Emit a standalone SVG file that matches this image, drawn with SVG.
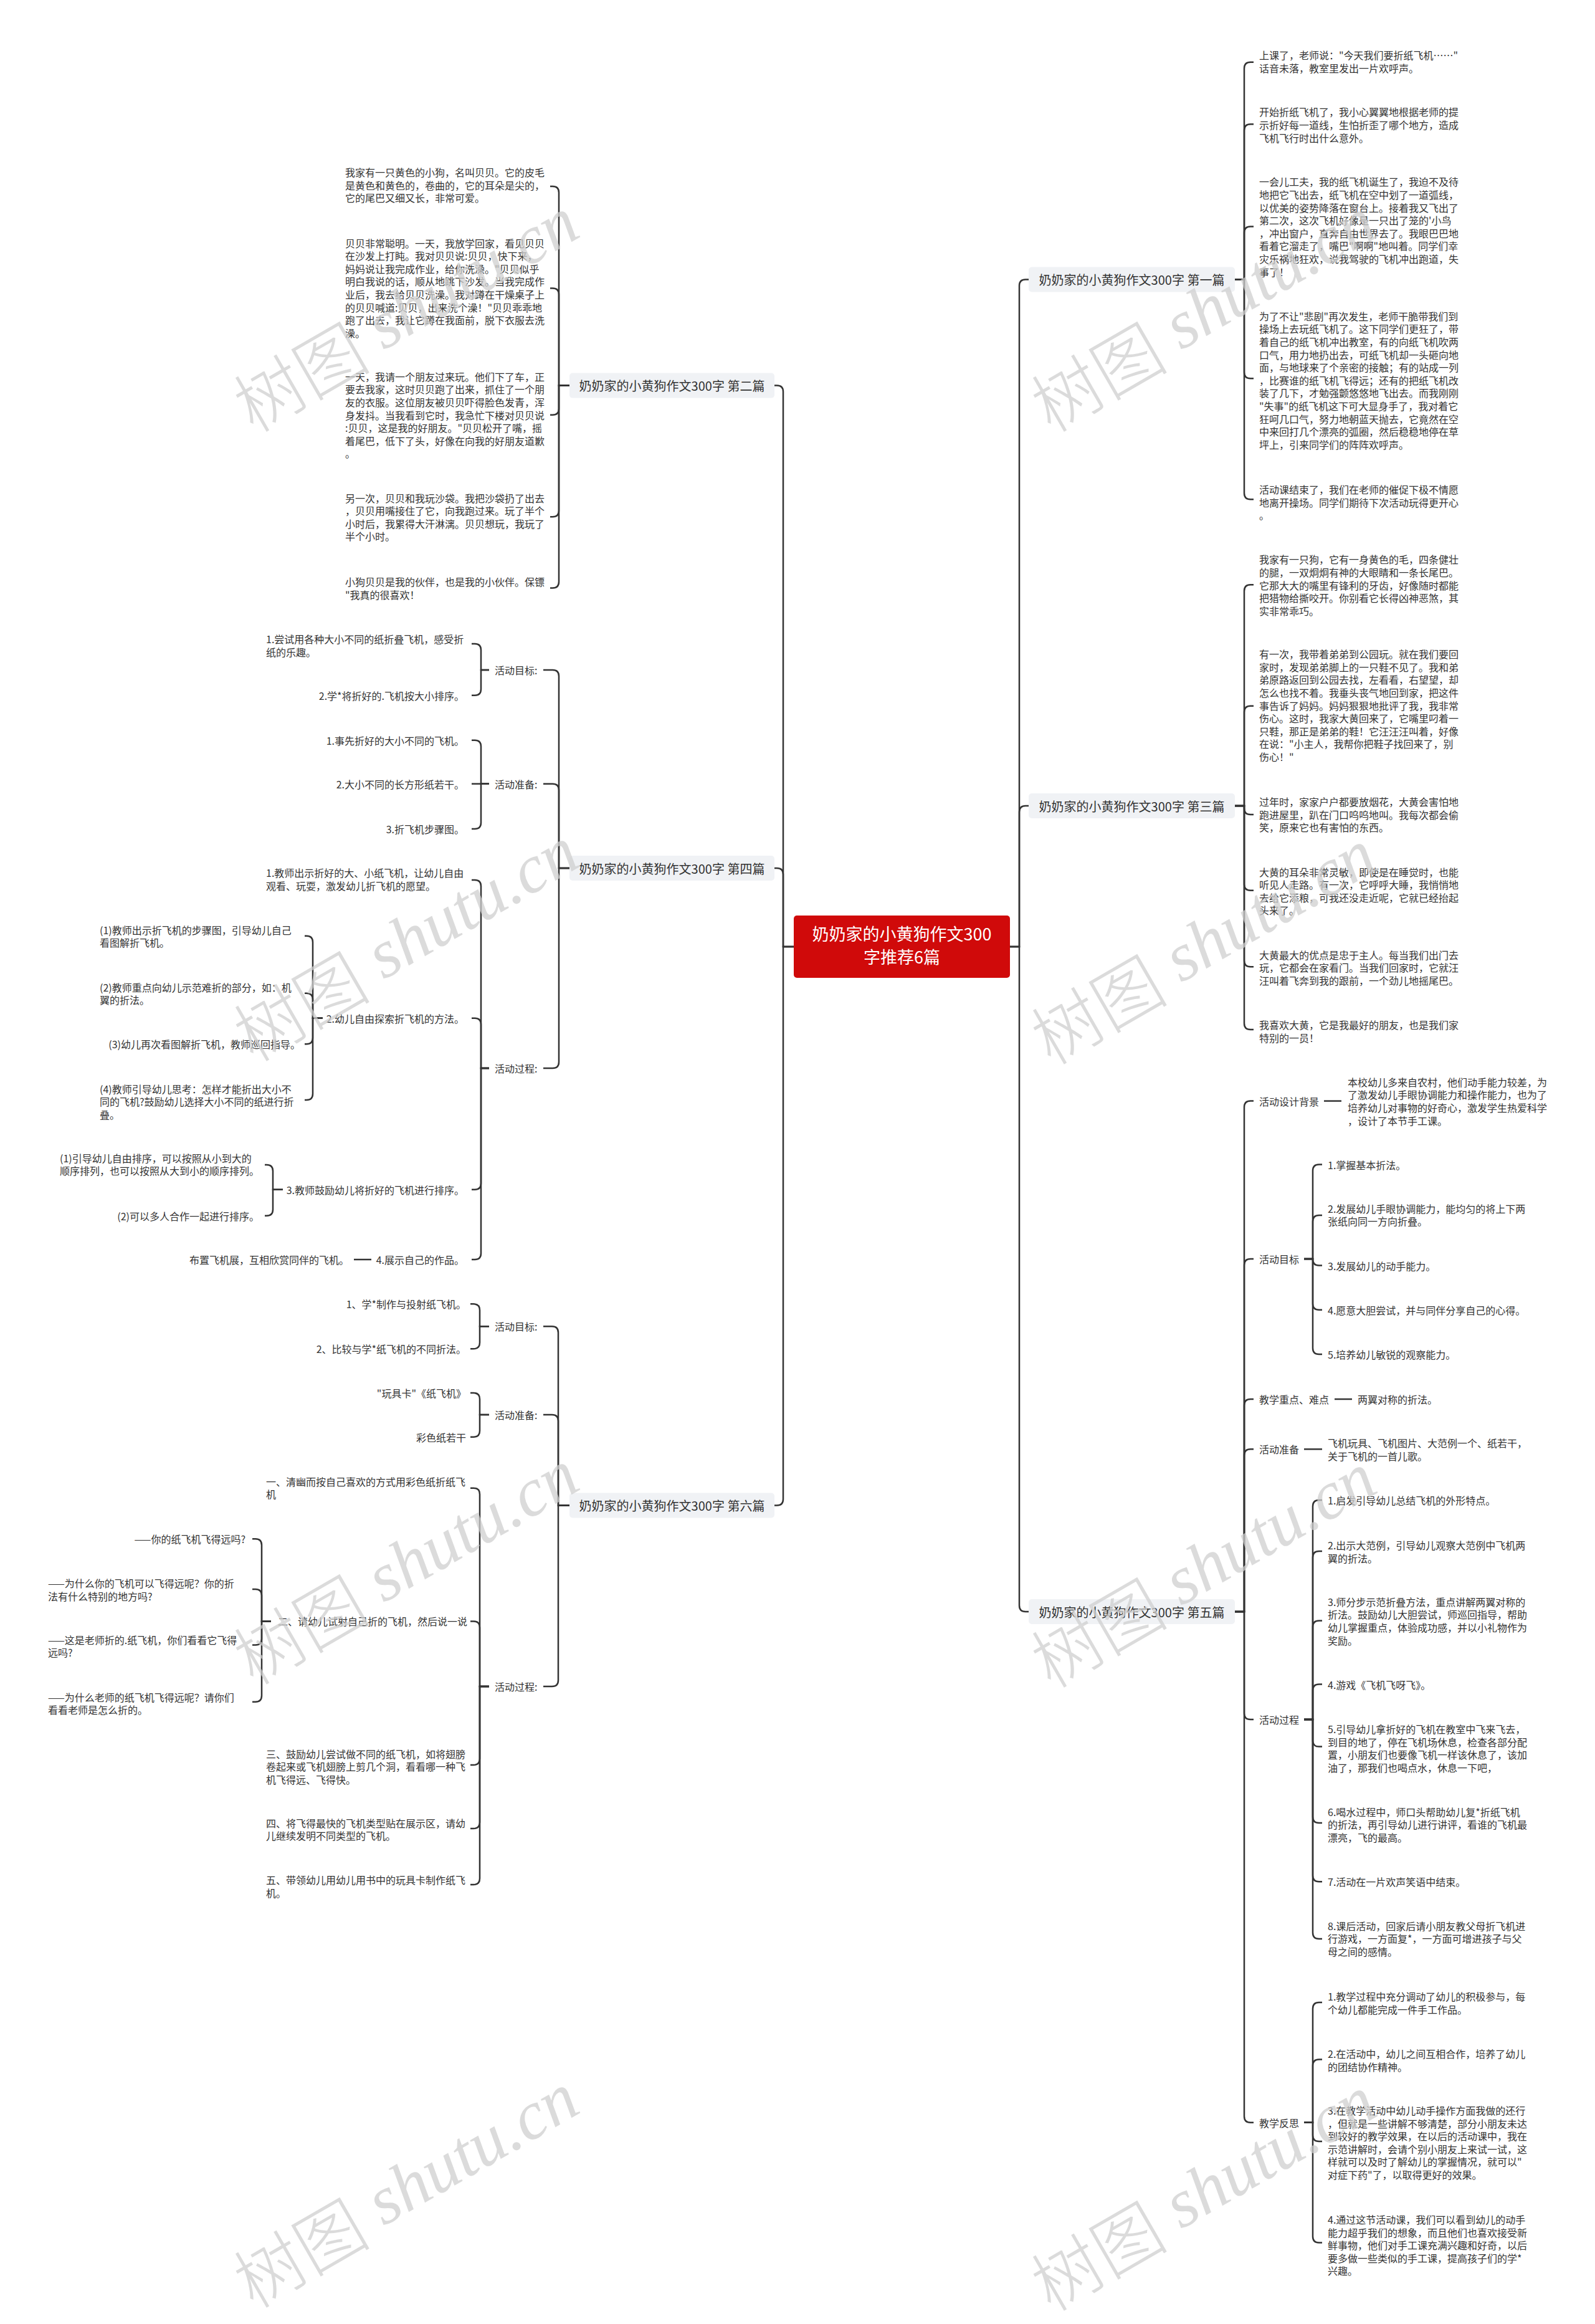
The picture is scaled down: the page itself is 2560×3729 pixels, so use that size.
<svg xmlns="http://www.w3.org/2000/svg" width="2560" height="3729" viewBox="0 0 2560 3729">
<style>
.t{font-family:"Noto Sans CJK SC","Noto Sans",sans-serif;font-size:16px;fill:#333;dominant-baseline:central}
.e{text-anchor:end}
.lb{font-family:"Noto Sans CJK SC","Noto Sans",sans-serif;font-size:20px;fill:#333;text-anchor:middle;dominant-baseline:central}
.box{fill:#f0f2f5}
.c{fill:none;stroke:#333;stroke-width:2.5}
.wm{font-size:110px;fill:#cfcfcf;fill-opacity:0.75;text-anchor:middle;dominant-baseline:central}
</style>
<rect width="2560" height="3729" fill="#fff"/>
<g id="connectors" class="c">
<path d="M1274 1519H1257V628.6Q1257 618.6 1247 618.6H1243"/>
<path d="M1274 1519H1257V1403Q1257 1393 1247 1393H1243"/>
<path d="M1274 1519H1257V2405.5Q1257 2415.5 1247 2415.5H1243"/>
<path d="M1621 1519H1636V458.5Q1636 448.5 1646 448.5H1651"/>
<path d="M1621 1519H1636V1303Q1636 1293 1646 1293H1651"/>
<path d="M1621 1519H1636V2576Q1636 2586 1646 2586H1651"/>
<path d="M914 618.6H897V309Q897 299 887 299H883"/>
<path d="M914 618.6H897V472.4Q897 462.4 887 462.4H883"/>
<path d="M914 618.6H897V655.8Q897 665.8 887 665.8H883"/>
<path d="M914 618.6H897V819.3Q897 829.3 887 829.3H883"/>
<path d="M914 618.6H897V933.4Q897 943.4 887 943.4H883"/>
<path d="M914 1393H897V1085Q897 1075 887 1075H872"/>
<path d="M914 1393H897V1267.7Q897 1257.7 887 1257.7H872"/>
<path d="M914 1393H897V1704Q897 1714 887 1714H872"/>
<path d="M785 1075H772V1043Q772 1033 762 1033H757"/>
<path d="M785 1075H772V1105.7Q772 1115.7 762 1115.7H757"/>
<path d="M785 1257.7H772V1197.7Q772 1187.7 762 1187.7H757"/>
<path d="M785 1257.7H757"/>
<path d="M785 1257.7H772V1320Q772 1330 762 1330H757"/>
<path d="M785 1714H772V1422Q772 1412 762 1412H757"/>
<path d="M785 1714H772V1643.7Q772 1633.7 762 1633.7H757"/>
<path d="M785 1714H772V1898.8Q772 1908.8 762 1908.8H757"/>
<path d="M785 1714H772V2011Q772 2021 762 2021H757"/>
<path d="M518 1633.7H502V1511.8Q502 1501.8 492 1501.8H489"/>
<path d="M518 1633.7H502V1603.7Q502 1593.7 492 1593.7H489"/>
<path d="M518 1633.7H502V1665.3Q502 1675.3 492 1675.3H489"/>
<path d="M518 1633.7H502V1755Q502 1765 492 1765H489"/>
<path d="M454 1908.8H438V1879Q438 1869 428 1869H425"/>
<path d="M454 1908.8H438V1940.8Q438 1950.8 428 1950.8H425"/>
<path d="M596 2021H568"/>
<path d="M914 2415.5H896V2138.3Q896 2128.3 886 2128.3H872"/>
<path d="M914 2415.5H896V2280Q896 2270 886 2270H872"/>
<path d="M914 2415.5H896V2696Q896 2706 886 2706H872"/>
<path d="M785 2128.3H770V2102.3Q770 2092.3 760 2092.3H755"/>
<path d="M785 2128.3H770V2154.3Q770 2164.3 760 2164.3H755"/>
<path d="M785 2270H770V2245Q770 2235 760 2235H755"/>
<path d="M785 2270H770V2295.7Q770 2305.7 760 2305.7H755"/>
<path d="M785 2706H770V2397.7Q770 2387.7 760 2387.7H755"/>
<path d="M785 2706H770V2611.4Q770 2601.4 760 2601.4H755"/>
<path d="M785 2706H770V2822Q770 2832 760 2832H755"/>
<path d="M785 2706H770V2924Q770 2934 760 2934H755"/>
<path d="M785 2706H770V3014Q770 3024 760 3024H755"/>
<path d="M435 2601.4H420V2479.3Q420 2469.3 410 2469.3H405"/>
<path d="M435 2601.4H420V2560Q420 2550 410 2550H405"/>
<path d="M435 2601.4H420V2629.6Q420 2639.6 410 2639.6H405"/>
<path d="M435 2601.4H420V2720.8Q420 2730.8 410 2730.8H405"/>
<path d="M1982 448.5H1997V109.8Q1997 99.8 2007 99.8H2012"/>
<path d="M1982 448.5H1997V209.3Q1997 199.3 2007 199.3H2012"/>
<path d="M1982 448.5H1997V373.5Q1997 363.5 2007 363.5H2012"/>
<path d="M1982 448.5H1997V597.3Q1997 607.3 2007 607.3H2012"/>
<path d="M1982 448.5H1997V791.3Q1997 801.3 2007 801.3H2012"/>
<path d="M1982 1293H1997V948.2Q1997 938.2 2007 938.2H2012"/>
<path d="M1982 1293H1997V1142.8Q1997 1132.8 2007 1132.8H2012"/>
<path d="M1982 1293H1997V1297Q1997 1307 2007 1307H2012"/>
<path d="M1982 1293H1997V1418.8Q1997 1428.8 2007 1428.8H2012"/>
<path d="M1982 1293H1997V1541.2Q1997 1551.2 2007 1551.2H2012"/>
<path d="M1982 1293H1997V1642Q1997 1652 2007 1652H2012"/>
<path d="M1982 2586H1997V1776.6Q1997 1766.6 2007 1766.6H2012"/>
<path d="M1982 2586H1997V2030Q1997 2020 2007 2020H2012"/>
<path d="M1982 2586H1997V2255Q1997 2245 2007 2245H2012"/>
<path d="M1982 2586H1997V2335.3Q1997 2325.3 2007 2325.3H2012"/>
<path d="M1982 2586H1997V2749Q1997 2759 2007 2759H2012"/>
<path d="M1982 2586H1997V3395.7Q1997 3405.7 2007 3405.7H2012"/>
<path d="M2125 1766.6H2153"/>
<path d="M2093 2020H2107V1878.5Q2107 1868.5 2117 1868.5H2122"/>
<path d="M2093 2020H2107V1960Q2107 1950 2117 1950H2122"/>
<path d="M2093 2020H2107V2020.6Q2107 2030.6 2117 2030.6H2122"/>
<path d="M2093 2020H2107V2091.7Q2107 2101.7 2117 2101.7H2122"/>
<path d="M2093 2020H2107V2163Q2107 2173 2117 2173H2122"/>
<path d="M2142 2245H2170"/>
<path d="M2093 2325.3H2122"/>
<path d="M2093 2759H2107V2417Q2107 2407 2117 2407H2122"/>
<path d="M2093 2759H2107V2499Q2107 2489 2117 2489H2122"/>
<path d="M2093 2759H2107V2610.5Q2107 2600.5 2117 2600.5H2122"/>
<path d="M2093 2759H2107V2712.5Q2107 2702.5 2117 2702.5H2122"/>
<path d="M2093 2759H2107V2792.6Q2107 2802.6 2117 2802.6H2122"/>
<path d="M2093 2759H2107V2915Q2107 2925 2117 2925H2122"/>
<path d="M2093 2759H2107V3009.3Q2107 3019.3 2117 3019.3H2122"/>
<path d="M2093 2759H2107V3101Q2107 3111 2117 3111H2122"/>
<path d="M2093 3405.7H2107V3222.9Q2107 3212.9 2117 3212.9H2122"/>
<path d="M2093 3405.7H2107V3314.6Q2107 3304.6 2117 3304.6H2122"/>
<path d="M2093 3405.7H2107V3426Q2107 3436 2117 3436H2122"/>
<path d="M2093 3405.7H2107V3588.6Q2107 3598.6 2117 3598.6H2122"/>
</g>
<g id="n-root">
<rect x="1274" y="1469" width="347" height="100" rx="5" fill="#d00a0a"/>
<text x="1447.5" y="1497" font-family="Noto Sans CJK SC, sans-serif" font-size="27" fill="#fff" text-anchor="middle" dominant-baseline="central">奶奶家的小黄狗作文300</text>
<text x="1447.5" y="1534" font-family="Noto Sans CJK SC, sans-serif" font-size="27" fill="#fff" text-anchor="middle" dominant-baseline="central">字推荐6篇</text>
</g>
<g id="n-b2"><rect class="box" x="914" y="598.6" width="329" height="40" rx="5"/><text class="lb" x="1078.5" y="618.6">奶奶家的小黄狗作文300字 第二篇</text></g>
<g id="n-b4"><rect class="box" x="914" y="1373" width="329" height="40" rx="5"/><text class="lb" x="1078.5" y="1393">奶奶家的小黄狗作文300字 第四篇</text></g>
<g id="n-b6"><rect class="box" x="914" y="2395.5" width="329" height="40" rx="5"/><text class="lb" x="1078.5" y="2415.5">奶奶家的小黄狗作文300字 第六篇</text></g>
<g id="n-b1"><rect class="box" x="1651" y="428.5" width="331" height="40" rx="5"/><text class="lb" x="1816.5" y="448.5">奶奶家的小黄狗作文300字 第一篇</text></g>
<g id="n-b3"><rect class="box" x="1651" y="1273" width="331" height="40" rx="5"/><text class="lb" x="1816.5" y="1293">奶奶家的小黄狗作文300字 第三篇</text></g>
<g id="n-b5"><rect class="box" x="1651" y="2566" width="331" height="40" rx="5"/><text class="lb" x="1816.5" y="2586">奶奶家的小黄狗作文300字 第五篇</text></g>

<g id="n-b2-1"><text class="t" x="554" y="276"><tspan x="554">我家有一只黄色的小狗，名叫贝贝。它的皮毛</tspan><tspan x="554" dy="20.6">是黄色和黄色的，卷曲的，它的耳朵是尖的，</tspan><tspan x="554" dy="20.6">它的尾巴又细又长，非常可爱。</tspan></text></g>
<g id="n-b2-2"><text class="t" x="554" y="389.5"><tspan x="554">贝贝非常聪明。一天，我放学回家，看见贝贝</tspan><tspan x="554" dy="20.6">在沙发上打盹。我对贝贝说:贝贝，快下来，</tspan><tspan x="554" dy="20.6">妈妈说让我完成作业，给你洗澡。"贝贝似乎</tspan><tspan x="554" dy="20.6">明白我说的话，顺从地跳下沙发。当我完成作</tspan><tspan x="554" dy="20.6">业后，我去给贝贝洗澡。我对蹲在干燥桌子上</tspan><tspan x="554" dy="20.6">的贝贝喊道:贝贝，出来洗个澡！"贝贝乖乖地</tspan><tspan x="554" dy="20.6">跑了出去，我让它蹲在我面前，脱下衣服去洗</tspan><tspan x="554" dy="20.6">澡。</tspan></text></g>
<g id="n-b2-3"><text class="t" x="554" y="603.7"><tspan x="554">一天，我请一个朋友过来玩。他们下了车，正</tspan><tspan x="554" dy="20.6">要去我家，这时贝贝跑了出来，抓住了一个朋</tspan><tspan x="554" dy="20.6">友的衣服。这位朋友被贝贝吓得脸色发青，浑</tspan><tspan x="554" dy="20.6">身发抖。当我看到它时，我急忙下楼对贝贝说</tspan><tspan x="554" dy="20.6">:贝贝，这是我的好朋友。"贝贝松开了嘴，摇</tspan><tspan x="554" dy="20.6">着尾巴，低下了头，好像在向我的好朋友道歉</tspan><tspan x="554" dy="20.6">。</tspan></text></g>
<g id="n-b2-4"><text class="t" x="554" y="798.5"><tspan x="554">另一次，贝贝和我玩沙袋。我把沙袋扔了出去</tspan><tspan x="554" dy="20.6">，贝贝用嘴接住了它，向我跑过来。玩了半个</tspan><tspan x="554" dy="20.6">小时后，我累得大汗淋漓。贝贝想玩，我玩了</tspan><tspan x="554" dy="20.6">半个小时。</tspan></text></g>
<g id="n-b2-5"><text class="t" x="554" y="933"><tspan x="554">小狗贝贝是我的伙伴，也是我的小伙伴。保镖</tspan><tspan x="554" dy="20.6">"我真的很喜欢！</tspan></text></g>

<g id="n-b4-a"><text class="t" x="794" y="1075">活动目标:</text></g>
<g id="n-b4-a1"><text class="t" x="427" y="1025"><tspan x="427">1.尝试用各种大小不同的纸折叠飞机，感受折</tspan><tspan x="427" dy="20.6">纸的乐趣。</tspan></text></g>
<g id="n-b4-a2"><text class="t e" x="745" y="1115.7">2.学*将折好的.飞机按大小排序。</text></g>
<g id="n-b4-b"><text class="t" x="794" y="1257.7">活动准备:</text></g>
<g id="n-b4-b1"><text class="t e" x="745" y="1187.7">1.事先折好的大小不同的飞机。</text></g>
<g id="n-b4-b2"><text class="t e" x="745" y="1257.7">2.大小不同的长方形纸若干。</text></g>
<g id="n-b4-b3"><text class="t e" x="745" y="1330">3.折飞机步骤图。</text></g>
<g id="n-b4-c"><text class="t" x="794" y="1714">活动过程:</text></g>
<g id="n-b4-c1"><text class="t" x="427" y="1400"><tspan x="427">1.教师出示折好的大、小纸飞机，让幼儿自由</tspan><tspan x="427" dy="20.6">观看、玩耍，激发幼儿折飞机的愿望。</tspan></text></g>
<g id="n-b4-c2"><text class="t e" x="745" y="1633.7">2.幼儿自由探索折飞机的方法。</text></g>
<g id="n-b4-c2-1"><text class="t" x="160" y="1491.6"><tspan x="160">(1)教师出示折飞机的步骤图，引导幼儿自己</tspan><tspan x="160" dy="20.6">看图解折飞机。</tspan></text></g>
<g id="n-b4-c2-2"><text class="t" x="160" y="1583.5"><tspan x="160">(2)教师重点向幼儿示范难折的部分，如：机</tspan><tspan x="160" dy="20.6">翼的折法。</tspan></text></g>
<g id="n-b4-c2-3"><text class="t e" x="482" y="1675.3">(3)幼儿再次看图解折飞机，教师巡回指导。</text></g>
<g id="n-b4-c2-4"><text class="t" x="160" y="1746.7"><tspan x="160">(4)教师引导幼儿思考：怎样才能折出大小不</tspan><tspan x="160" dy="20.6">同的飞机?鼓励幼儿选择大小不同的纸进行折</tspan><tspan x="160" dy="20.6">叠。</tspan></text></g>
<g id="n-b4-c3"><text class="t e" x="745" y="1908.8">3.教师鼓励幼儿将折好的飞机进行排序。</text></g>
<g id="n-b4-c3-1"><text class="t" x="96" y="1857.7"><tspan x="96">(1)引导幼儿自由排序，可以按照从小到大的</tspan><tspan x="96" dy="20.6">顺序排列，也可以按照从大到小的顺序排列。</tspan></text></g>
<g id="n-b4-c3-2"><text class="t e" x="416" y="1950.8">(2)可以多人合作一起进行排序。</text></g>
<g id="n-b4-c4"><text class="t e" x="745" y="2021">4.展示自己的作品。</text></g>
<g id="n-b4-c4-1"><text class="t e" x="560" y="2021">布置飞机展，互相欣赏同伴的飞机。</text></g>

<g id="n-b6-a"><text class="t" x="794" y="2128.3">活动目标:</text></g>
<g id="n-b6-a1"><text class="t e" x="748" y="2092.3">1、学*制作与投射纸飞机。</text></g>
<g id="n-b6-a2"><text class="t e" x="748" y="2164.3">2、比较与学*纸飞机的不同折法。</text></g>
<g id="n-b6-b"><text class="t" x="794" y="2270">活动准备:</text></g>
<g id="n-b6-b1"><text class="t e" x="748" y="2235">"玩具卡"《纸飞机》</text></g>
<g id="n-b6-b2"><text class="t e" x="748" y="2305.7">彩色纸若干</text></g>
<g id="n-b6-c"><text class="t" x="794" y="2706">活动过程:</text></g>
<g id="n-b6-c1"><text class="t" x="427" y="2376.7"><tspan x="427">一、清幽而按自己喜欢的方式用彩色纸折纸飞</tspan><tspan x="427" dy="20.6">机</tspan></text></g>
<g id="n-b6-c2"><text class="t e" x="750" y="2601.4">二、请幼儿试射自己折的飞机，然后说一说</text></g>
<g id="n-b6-c2-1"><text class="t e" x="394" y="2469.3">——你的纸飞机飞得远吗?</text></g>
<g id="n-b6-c2-2"><text class="t" x="77" y="2540"><tspan x="77">——为什么你的飞机可以飞得远呢？你的折</tspan><tspan x="77" dy="20.6">法有什么特别的地方吗?</tspan></text></g>
<g id="n-b6-c2-3"><text class="t" x="77" y="2630.6"><tspan x="77">——这是老师折的.纸飞机，你们看看它飞得</tspan><tspan x="77" dy="20.6">远吗?</tspan></text></g>
<g id="n-b6-c2-4"><text class="t" x="77" y="2722.5"><tspan x="77">——为什么老师的纸飞机飞得远呢？请你们</tspan><tspan x="77" dy="20.6">看看老师是怎么折的。</tspan></text></g>
<g id="n-b6-c3"><text class="t" x="427" y="2813.7"><tspan x="427">三、鼓励幼儿尝试做不同的纸飞机，如将翅膀</tspan><tspan x="427" dy="20.6">卷起来或飞机翅膀上剪几个洞，看看哪一种飞</tspan><tspan x="427" dy="20.6">机飞得远、飞得快。</tspan></text></g>
<g id="n-b6-c4"><text class="t" x="427" y="2924.8"><tspan x="427">四、将飞得最快的飞机类型贴在展示区，请幼</tspan><tspan x="427" dy="20.6">儿继续发明不同类型的飞机。</tspan></text></g>
<g id="n-b6-c5"><text class="t" x="427" y="3016"><tspan x="427">五、带领幼儿用幼儿用书中的玩具卡制作纸飞</tspan><tspan x="427" dy="20.6">机。</tspan></text></g>

<g id="n-b1-1"><text class="t" x="2021" y="88"><tspan x="2021">上课了，老师说："今天我们要折纸飞机……"</tspan><tspan x="2021" dy="20.6">话音未落，教室里发出一片欢呼声。</tspan></text></g>
<g id="n-b1-2"><text class="t" x="2021" y="179.4"><tspan x="2021">开始折纸飞机了，我小心翼翼地根据老师的提</tspan><tspan x="2021" dy="20.6">示折好每一道线，生怕折歪了哪个地方，造成</tspan><tspan x="2021" dy="20.6">飞机飞行时出什么意外。</tspan></text></g>
<g id="n-b1-3"><text class="t" x="2021" y="291.4"><tspan x="2021">一会儿工夫，我的纸飞机诞生了，我迫不及待</tspan><tspan x="2021" dy="20.6">地把它飞出去，纸飞机在空中划了一道弧线，</tspan><tspan x="2021" dy="20.6">以优美的姿势降落在窗台上。接着我又飞出了</tspan><tspan x="2021" dy="20.6">第二次，这次飞机好像是一只出了笼的'小鸟</tspan><tspan x="2021" dy="20.6">，冲出窗户，直奔自由世界去了。我眼巴巴地</tspan><tspan x="2021" dy="20.6">看着它溜走了，嘴巴"啊啊"地叫着。同学们幸</tspan><tspan x="2021" dy="20.6">灾乐祸地狂欢，说我驾驶的飞机冲出跑道，失</tspan><tspan x="2021" dy="20.6">事了！</tspan></text></g>
<g id="n-b1-4"><text class="t" x="2021" y="506.8"><tspan x="2021">为了不让"悲剧"再次发生，老师干脆带我们到</tspan><tspan x="2021" dy="20.6">操场上去玩纸飞机了。这下同学们更狂了，带</tspan><tspan x="2021" dy="20.6">着自己的纸飞机冲出教室，有的向纸飞机吹两</tspan><tspan x="2021" dy="20.6">口气，用力地扔出去，可纸飞机却一头砸向地</tspan><tspan x="2021" dy="20.6">面，与地球来了个亲密的接触；有的站成一列</tspan><tspan x="2021" dy="20.6">，比赛谁的纸飞机飞得远；还有的把纸飞机改</tspan><tspan x="2021" dy="20.6">装了几下，才勉强颤悠悠地飞出去。而我刚刚</tspan><tspan x="2021" dy="20.6">"失事"的纸飞机这下可大显身手了，我对着它</tspan><tspan x="2021" dy="20.6">狂呵几口气，努力地朝蓝天抛去，它竟然在空</tspan><tspan x="2021" dy="20.6">中来回打几个漂亮的弧圈，然后稳稳地停在草</tspan><tspan x="2021" dy="20.6">坪上，引来同学们的阵阵欢呼声。</tspan></text></g>
<g id="n-b1-5"><text class="t" x="2021" y="784.9"><tspan x="2021">活动课结束了，我们在老师的催促下极不情愿</tspan><tspan x="2021" dy="20.6">地离开操场。同学们期待下次活动玩得更开心</tspan><tspan x="2021" dy="20.6">。</tspan></text></g>

<g id="n-b3-1"><text class="t" x="2021" y="897.4"><tspan x="2021">我家有一只狗，它有一身黄色的毛，四条健壮</tspan><tspan x="2021" dy="20.6">的腿，一双炯炯有神的大眼睛和一条长尾巴。</tspan><tspan x="2021" dy="20.6">它那大大的嘴里有锋利的牙齿，好像随时都能</tspan><tspan x="2021" dy="20.6">把猎物给撕咬开。你别看它长得凶神恶煞，其</tspan><tspan x="2021" dy="20.6">实非常乖巧。</tspan></text></g>
<g id="n-b3-2"><text class="t" x="2021" y="1049.1"><tspan x="2021">有一次，我带着弟弟到公园玩。就在我们要回</tspan><tspan x="2021" dy="20.6">家时，发现弟弟脚上的一只鞋不见了。我和弟</tspan><tspan x="2021" dy="20.6">弟原路返回到公园去找，左看看，右望望，却</tspan><tspan x="2021" dy="20.6">怎么也找不着。我垂头丧气地回到家，把这件</tspan><tspan x="2021" dy="20.6">事告诉了妈妈。妈妈狠狠地批评了我，我非常</tspan><tspan x="2021" dy="20.6">伤心。这时，我家大黄回来了，它嘴里叼着一</tspan><tspan x="2021" dy="20.6">只鞋，那正是弟弟的鞋！它汪汪汪叫着，好像</tspan><tspan x="2021" dy="20.6">在说："小主人，我帮你把鞋子找回来了，别</tspan><tspan x="2021" dy="20.6">伤心！"</tspan></text></g>
<g id="n-b3-3"><text class="t" x="2021" y="1286"><tspan x="2021">过年时，家家户户都要放烟花，大黄会害怕地</tspan><tspan x="2021" dy="20.6">跑进屋里，趴在门口呜呜地叫。我每次都会偷</tspan><tspan x="2021" dy="20.6">笑，原来它也有害怕的东西。</tspan></text></g>
<g id="n-b3-4"><text class="t" x="2021" y="1398.5"><tspan x="2021">大黄的耳朵非常灵敏，即使是在睡觉时，也能</tspan><tspan x="2021" dy="20.6">听见人走路。有一次，它呼呼大睡，我悄悄地</tspan><tspan x="2021" dy="20.6">去给它添粮，可我还没走近呢，它就已经抬起</tspan><tspan x="2021" dy="20.6">头来了。</tspan></text></g>
<g id="n-b3-5"><text class="t" x="2021" y="1531.8"><tspan x="2021">大黄最大的优点是忠于主人。每当我们出门去</tspan><tspan x="2021" dy="20.6">玩，它都会在家看门。当我们回家时，它就汪</tspan><tspan x="2021" dy="20.6">汪叫着飞奔到我的跟前，一个劲儿地摇尾巴。</tspan></text></g>
<g id="n-b3-6"><text class="t" x="2021" y="1644.3"><tspan x="2021">我喜欢大黄，它是我最好的朋友，也是我们家</tspan><tspan x="2021" dy="20.6">特别的一员！</tspan></text></g>

<g id="n-b5-a"><text class="t" x="2021" y="1766.6">活动设计背景</text></g>
<g id="n-b5-a1"><text class="t" x="2163" y="1735.8"><tspan x="2163">本校幼儿多来自农村，他们动手能力较差，为</tspan><tspan x="2163" dy="20.6">了激发幼儿手眼协调能力和操作能力，也为了</tspan><tspan x="2163" dy="20.6">培养幼儿对事物的好奇心，激发学生热爱科学</tspan><tspan x="2163" dy="20.6">，设计了本节手工课。</tspan></text></g>
<g id="n-b5-b"><text class="t" x="2021" y="2020">活动目标</text></g>
<g id="n-b5-b1"><text class="t" x="2131" y="1868.5">1.掌握基本折法。</text></g>
<g id="n-b5-b2"><text class="t" x="2131" y="1938.7"><tspan x="2131">2.发展幼儿手眼协调能力，能均匀的将上下两</tspan><tspan x="2131" dy="20.6">张纸向同一方向折叠。</tspan></text></g>
<g id="n-b5-b3"><text class="t" x="2131" y="2030.6">3.发展幼儿的动手能力。</text></g>
<g id="n-b5-b4"><text class="t" x="2131" y="2101.7">4.愿意大胆尝试，并与同伴分享自己的心得。</text></g>
<g id="n-b5-b5"><text class="t" x="2131" y="2173">5.培养幼儿敏锐的观察能力。</text></g>
<g id="n-b5-c"><text class="t" x="2021" y="2245">教学重点、难点</text></g>
<g id="n-b5-c1"><text class="t" x="2179" y="2245">两翼对称的折法。</text></g>
<g id="n-b5-d"><text class="t" x="2021" y="2325.3">活动准备</text></g>
<g id="n-b5-d1"><text class="t" x="2131" y="2315"><tspan x="2131">飞机玩具、飞机图片、大范例一个、纸若干，</tspan><tspan x="2131" dy="20.6">关于飞机的一首儿歌。</tspan></text></g>
<g id="n-b5-e"><text class="t" x="2021" y="2759">活动过程</text></g>
<g id="n-b5-e1"><text class="t" x="2131" y="2407">1.启发引导幼儿总结飞机的外形特点。</text></g>
<g id="n-b5-e2"><text class="t" x="2131" y="2478.9"><tspan x="2131">2.出示大范例，引导幼儿观察大范例中飞机两</tspan><tspan x="2131" dy="20.6">翼的折法。</tspan></text></g>
<g id="n-b5-e3"><text class="t" x="2131" y="2569.8"><tspan x="2131">3.师分步示范折叠方法，重点讲解两翼对称的</tspan><tspan x="2131" dy="20.6">折法。鼓励幼儿大胆尝试，师巡回指导，帮助</tspan><tspan x="2131" dy="20.6">幼儿掌握重点，体验成功感，并以小礼物作为</tspan><tspan x="2131" dy="20.6">奖励。</tspan></text></g>
<g id="n-b5-e4"><text class="t" x="2131" y="2702.5">4.游戏《飞机飞呀飞》。</text></g>
<g id="n-b5-e5"><text class="t" x="2131" y="2774"><tspan x="2131">5.引导幼儿拿折好的飞机在教室中飞来飞去，</tspan><tspan x="2131" dy="20.6">到目的地了，停在飞机场休息，检查各部分配</tspan><tspan x="2131" dy="20.6">置，小朋友们也要像飞机一样该休息了，该加</tspan><tspan x="2131" dy="20.6">油了，那我们也喝点水，休息一下吧，</tspan></text></g>
<g id="n-b5-e6"><text class="t" x="2131" y="2906.8"><tspan x="2131">6.喝水过程中，师口头帮助幼儿复*折纸飞机</tspan><tspan x="2131" dy="20.6">的折法，再引导幼儿进行讲评，看谁的飞机最</tspan><tspan x="2131" dy="20.6">漂亮，飞的最高。</tspan></text></g>
<g id="n-b5-e7"><text class="t" x="2131" y="3019.3">7.活动在一片欢声笑语中结束。</text></g>
<g id="n-b5-e8"><text class="t" x="2131" y="3089.5"><tspan x="2131">8.课后活动，回家后请小朋友教父母折飞机进</tspan><tspan x="2131" dy="20.6">行游戏，一方面复*，一方面可增进孩子与父</tspan><tspan x="2131" dy="20.6">母之间的感情。</tspan></text></g>
<g id="n-b5-f"><text class="t" x="2021" y="3405.7">教学反思</text></g>
<g id="n-b5-f1"><text class="t" x="2131" y="3202.9"><tspan x="2131">1.教学过程中充分调动了幼儿的积极参与，每</tspan><tspan x="2131" dy="20.6">个幼儿都能完成一件手工作品。</tspan></text></g>
<g id="n-b5-f2"><text class="t" x="2131" y="3295"><tspan x="2131">2.在活动中，幼儿之间互相合作，培养了幼儿</tspan><tspan x="2131" dy="20.6">的团结协作精神。</tspan></text></g>
<g id="n-b5-f3"><text class="t" x="2131" y="3386"><tspan x="2131">3.在教学活动中幼儿动手操作方面我做的还行</tspan><tspan x="2131" dy="20.6">，但就是一些讲解不够清楚，部分小朋友未达</tspan><tspan x="2131" dy="20.6">到较好的教学效果，在以后的活动课中，我在</tspan><tspan x="2131" dy="20.6">示范讲解时，会请个别小朋友上来试一试，这</tspan><tspan x="2131" dy="20.6">样就可以及时了解幼儿的掌握情况，就可以"</tspan><tspan x="2131" dy="20.6">对症下药"了，以取得更好的效果。</tspan></text></g>
<g id="n-b5-f4"><text class="t" x="2131" y="3561"><tspan x="2131">4.通过这节活动课，我们可以看到幼儿的动手</tspan><tspan x="2131" dy="20.6">能力超乎我们的想象，而且他们也喜欢接受新</tspan><tspan x="2131" dy="20.6">鲜事物，他们对手工课充满兴趣和好奇，以后</tspan><tspan x="2131" dy="20.6">要多做一些类似的手工课，提高孩子们的学*</tspan><tspan x="2131" dy="20.6">兴趣。</tspan></text></g>

<g id="watermarks" class="wm">
<text transform="translate(650 500) rotate(-30)"><tspan font-family="Noto Sans CJK SC, sans-serif" font-weight="300">树图</tspan><tspan font-family="Liberation Serif, serif" font-style="italic"> shutu.cn</tspan></text>
<text transform="translate(1930 500) rotate(-30)"><tspan font-family="Noto Sans CJK SC, sans-serif" font-weight="300">树图</tspan><tspan font-family="Liberation Serif, serif" font-style="italic"> shutu.cn</tspan></text>
<text transform="translate(650 1510) rotate(-30)"><tspan font-family="Noto Sans CJK SC, sans-serif" font-weight="300">树图</tspan><tspan font-family="Liberation Serif, serif" font-style="italic"> shutu.cn</tspan></text>
<text transform="translate(1930 1515) rotate(-30)"><tspan font-family="Noto Sans CJK SC, sans-serif" font-weight="300">树图</tspan><tspan font-family="Liberation Serif, serif" font-style="italic"> shutu.cn</tspan></text>
<text transform="translate(650 2510) rotate(-30)"><tspan font-family="Noto Sans CJK SC, sans-serif" font-weight="300">树图</tspan><tspan font-family="Liberation Serif, serif" font-style="italic"> shutu.cn</tspan></text>
<text transform="translate(1930 2515) rotate(-30)"><tspan font-family="Noto Sans CJK SC, sans-serif" font-weight="300">树图</tspan><tspan font-family="Liberation Serif, serif" font-style="italic"> shutu.cn</tspan></text>
<text transform="translate(650 3510) rotate(-30)"><tspan font-family="Noto Sans CJK SC, sans-serif" font-weight="300">树图</tspan><tspan font-family="Liberation Serif, serif" font-style="italic"> shutu.cn</tspan></text>
<text transform="translate(1930 3515) rotate(-30)"><tspan font-family="Noto Sans CJK SC, sans-serif" font-weight="300">树图</tspan><tspan font-family="Liberation Serif, serif" font-style="italic"> shutu.cn</tspan></text>
</g>
</svg>
